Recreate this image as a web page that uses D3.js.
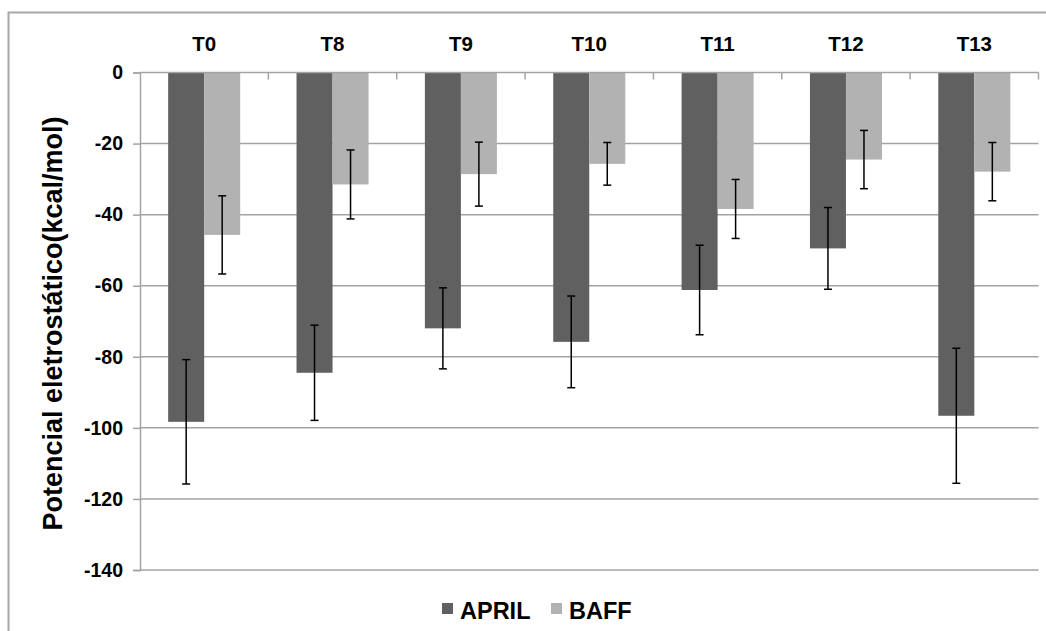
<!DOCTYPE html>
<html>
<head>
<meta charset="utf-8">
<script src="https://cdn.jsdelivr.net/npm/d3@7"></script>
<style>
  html, body { margin: 0; padding: 0; background: #fff; }
  svg { display: block; font-family: "Liberation Sans", Arial, sans-serif; }
</style>
</head>
<body>
<svg id="chart" width="1046" height="631"></svg>
<script>
// Electrostatic potential per time point, two ligands, with std. deviation
const categories = ["T0", "T8", "T9", "T10", "T11", "T12", "T13"];
const seriesNames = ["APRIL", "BAFF"];
const aprilValues = [-98.3, -84.5, -72.0, -75.8, -61.2, -49.5, -96.6];
const aprilErrors = [17.5, 13.4, 11.4, 12.9, 12.6, 11.5, 19.0];
const baffValues = [-45.7, -31.5, -28.6, -25.7, -38.4, -24.5, -27.9];
const baffErrors = [11.0, 9.7, 9.0, 6.0, 8.3, 8.2, 8.2];
const yTicks = [0, -20, -40, -60, -80, -100, -120, -140];
const yTitle = "Potencial eletrostático(kcal/mol)";

const colors = { APRIL: "#606060", BAFF: "#b2b2b2" };

const rows = categories.map((c, i) => ({
  cat: c,
  bars: [
    { name: "APRIL", value: aprilValues[i], err: aprilErrors[i] },
    { name: "BAFF", value: baffValues[i], err: baffErrors[i] }
  ]
}));

const svg = d3.select("#chart");
const plot = { left: 140, right: 1038.5, top: 72.5, bottom: 570 };

// outer chart frame (runs past the right and bottom edges)
svg.append("rect")
  .attr("x", 8.5).attr("y", 12.5)
  .attr("width", 1100).attr("height", 700)
  .attr("fill", "none").attr("stroke", "#a8a8a8").attr("stroke-width", 2);

const x0 = d3.scaleBand().domain(categories).range([plot.left, plot.right]).padding(0);
const x1 = d3.scaleBand().domain(seriesNames).range([0, x0.bandwidth()])
  .paddingInner(0).paddingOuter(0.782);
const y = d3.scaleLinear().domain([-140, 0]).range([plot.bottom, plot.top]);

// horizontal gridlines
svg.append("g").selectAll("line").data(yTicks.filter(t => t !== 0)).join("line")
  .attr("x1", plot.left).attr("x2", plot.right)
  .attr("y1", d => y(d)).attr("y2", d => y(d))
  .attr("stroke", "#a3a3a3").attr("stroke-width", 1.5);

// y axis
const yAxis = svg.append("g")
  .attr("transform", `translate(${plot.left},0)`)
  .call(d3.axisLeft(y).tickValues(yTicks).tickSize(7).tickPadding(10).tickFormat(d3.format("d")));
yAxis.select(".domain").attr("stroke", "#a3a3a3").attr("stroke-width", 1.5);
yAxis.selectAll(".tick line").attr("stroke", "#a3a3a3").attr("stroke-width", 1.5);
yAxis.selectAll(".tick text")
  .attr("fill", "#000").style("font-size", "19.5px").style("font-weight", "bold")
  .text(d => d === 0 ? "0" : "-" + Math.abs(d));

// bars
const groups = svg.append("g").selectAll("g").data(rows).join("g")
  .attr("transform", d => `translate(${x0(d.cat)},0)`);

groups.selectAll("rect").data(d => d.bars).join("rect")
  .attr("x", d => x1(d.name))
  .attr("width", x1.bandwidth())
  .attr("y", d => y(0))
  .attr("height", d => y(d.value) - y(0))
  .attr("fill", d => colors[d.name]);

// error bars
const eb = groups.selectAll("g.err").data(d => d.bars).join("g").attr("class", "err")
  .attr("stroke", "#000").attr("stroke-width", 1.5);
eb.append("line")
  .attr("x1", d => x1(d.name) + x1.bandwidth() / 2)
  .attr("x2", d => x1(d.name) + x1.bandwidth() / 2)
  .attr("y1", d => y(d.value + d.err))
  .attr("y2", d => y(d.value - d.err));
[1, -1].forEach(s => {
  eb.append("line")
    .attr("x1", d => x1(d.name) + x1.bandwidth() / 2 - 4)
    .attr("x2", d => x1(d.name) + x1.bandwidth() / 2 + 4)
    .attr("y1", d => y(d.value + s * d.err))
    .attr("y2", d => y(d.value + s * d.err));
});

// category axis along the zero line, with labels above
const xAxis = svg.append("g")
  .attr("transform", `translate(0,${plot.top})`)
  .call(d3.axisTop(x0).tickSize(0).tickPadding(22));
xAxis.select(".domain").remove();
xAxis.selectAll(".tick text")
  .attr("fill", "#000").style("font-size", "20.5px").style("font-weight", "bold");

svg.append("line")
  .attr("x1", plot.left).attr("x2", plot.right)
  .attr("y1", plot.top).attr("y2", plot.top)
  .attr("stroke", "#a3a3a3").attr("stroke-width", 1.5);
const boundaries = categories.map(c => x0(c) + x0.bandwidth());
svg.append("g").selectAll("line").data(boundaries).join("line")
  .attr("x1", d => d).attr("x2", d => d)
  .attr("y1", plot.top).attr("y2", plot.top + 7)
  .attr("stroke", "#a3a3a3").attr("stroke-width", 1.5);

// y axis title
svg.append("text")
  .attr("transform", `translate(62,${(115 + 532) / 2}) rotate(-90)`)
  .attr("text-anchor", "middle")
  .style("font-size", "27px").style("font-weight", "bold")
  .text(yTitle);

// legend
const legendItems = [
  { name: "APRIL", x: 442 },
  { name: "BAFF", x: 551 }
];
const lg = svg.append("g").selectAll("g").data(legendItems).join("g")
  .attr("transform", d => `translate(${d.x},0)`);
lg.append("rect").attr("x", 0).attr("y", 603).attr("width", 11).attr("height", 11)
  .attr("fill", d => colors[d.name]);
lg.append("text").attr("x", 18).attr("y", 619)
  .style("font-size", "23.5px").style("font-weight", "bold")
  .text(d => d.name);
</script>
</body>
</html>
